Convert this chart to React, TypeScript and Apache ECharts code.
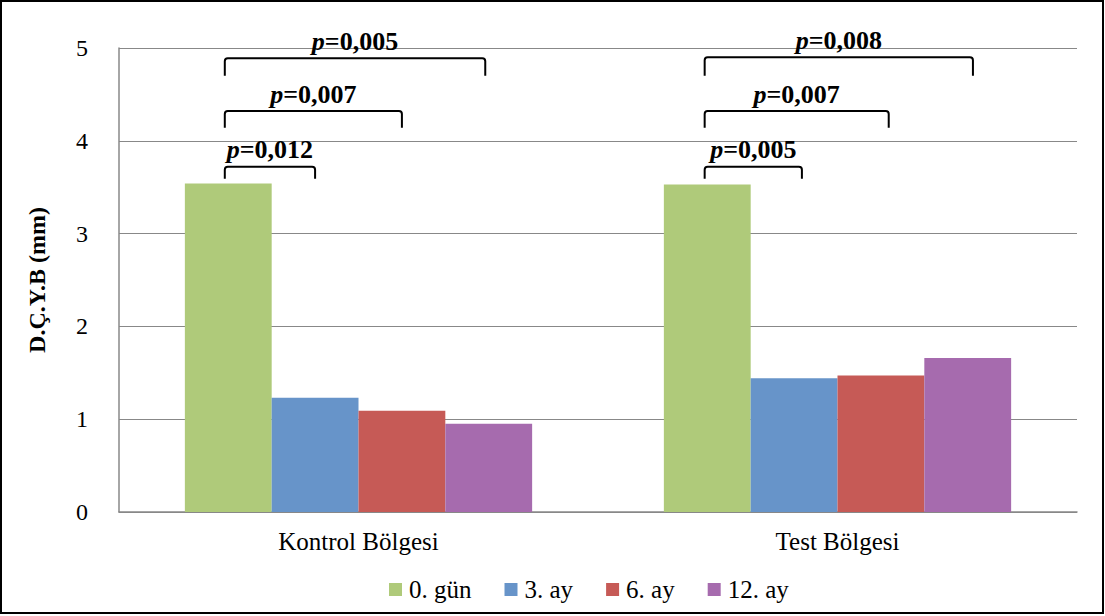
import React, { useEffect, useRef } from "react";
import * as echarts from "echarts";

const categories = ["Kontrol Bölgesi", "Test Bölgesi"];
const seriesNames = ["0. gün", "3. ay", "6. ay", "12. ay"];
const seriesColors = ["#AFCA7A", "#6794C9", "#C65A56", "#A66BAE"];
const gun0 = [3.54, 3.53];
const ay3 = [1.23, 1.44];
const ay6 = [1.09, 1.47];
const ay12 = [0.95, 1.66];
const yTicks = [0, 1, 2, 3, 4, 5];

// brackets: [categoryIndex, fromSlot, toSlot, topValue, endValue, label]
const brackets: [number, number, number, number, number, string][] = [
  [0, 0.46, 1.5, 3.72, 3.59, "0,012"],
  [0, 0.46, 2.5, 4.32, 4.14, "0,007"],
  [0, 0.46, 3.46, 4.89, 4.7, "0,005"],
  [1, 0.47, 1.59, 3.72, 3.59, "0,005"],
  [1, 0.47, 2.59, 4.32, 4.14, "0,007"],
  [1, 0.47, 3.56, 4.9, 4.7, "0,008"],
];

const FONT = "Liberation Serif";
const GAP = 0.275;

export default function App() {
  const ref = useRef<HTMLDivElement>(null);
  useEffect(() => {
    if (!ref.current) return;
    const chart = echarts.init(ref.current, null, { renderer: "svg" });
    const values = [gun0, ay3, ay6, ay12];
    const bars = values.map((d, i) => ({
      name: seriesNames[i],
      type: "bar",
      data: d,
      barGap: "0%",
      barCategoryGap: GAP * 100 + "%",
      itemStyle: { color: seriesColors[i] },
    }));
    chart.setOption({
      animation: false,
      backgroundColor: "#fff",
      textStyle: { fontFamily: FONT },
      grid: { left: 119, right: 28, top: 48, bottom: 104 },
      legend: {
        data: seriesNames,
        top: 572,
        left: 384,
        icon: "rect",
        itemWidth: 13,
        itemHeight: 13,
        itemGap: 33,
        textStyle: { fontFamily: FONT, fontSize: 25, color: "#000", padding: [0, 0, 0, 2] },
      },
      xAxis: {
        type: "category",
        data: categories,
        axisLine: { lineStyle: { color: "#888", width: 1.5 } },
        axisTick: { show: false },
        axisLabel: { fontFamily: FONT, fontSize: 25, color: "#000", margin: 17 },
      },
      yAxis: {
        type: "value",
        min: 0,
        max: 5,
        interval: 1,
        name: "D.Ç.Y.B (mm)",
        nameLocation: "middle",
        nameGap: 70,
        nameTextStyle: { fontFamily: FONT, fontSize: 24, fontWeight: "bold", color: "#000" },
        axisLine: { show: true, lineStyle: { color: "#888", width: 1.5 } },
        axisTick: { show: false },
        axisLabel: {
          fontFamily: FONT,
          fontSize: 24,
          color: "#000",
          margin: 31,
          formatter: (v: number) => (yTicks.includes(v) ? String(v) : ""),
        },
        splitLine: { lineStyle: { color: "#888", width: 1 } },
      },
      series: [
        ...bars,
        {
          type: "custom",
          name: "brackets",
          silent: true,
          z: 10,
          data: brackets.map((b) => b),
          renderItem: (params: any, api: any) => {
            const b = brackets[params.dataIndex];
            const catW = api.size([1, 0])[0];
            const bw = (catW * (1 - GAP)) / 4;
            const center = api.coord([b[0], 0])[0];
            const start = center - 2 * bw;
            const x1 = start + b[1] * bw;
            const x2 = start + b[2] * bw;
            const yt = api.coord([b[0], b[3]])[1];
            const yb = api.coord([b[0], b[4]])[1];
            const r = 3;
            const d = `M${x1} ${yb} L${x1} ${yt + r} Q${x1} ${yt} ${x1 + r} ${yt} L${x2 - r} ${yt} Q${x2} ${yt} ${x2} ${yt + r} L${x2} ${yb}`;
            return {
              type: "group",
              children: [
                {
                  type: "path",
                  shape: { pathData: d },
                  style: { fill: "none", stroke: "#000", lineWidth: 2 },
                },
                {
                  type: "text",
                  x: (x1 + x2) / 2,
                  y: yt - 4,
                  style: {
                    text: "{i|p}{b|=" + b[5] + "}",
                    align: "center",
                    verticalAlign: "bottom",
                    fontFamily: FONT,
                    rich: {
                      i: { fontFamily: FONT, fontSize: 26, fontWeight: "bold", fontStyle: "italic", fill: "#000" },
                      b: { fontFamily: FONT, fontSize: 26, fontWeight: "bold", fill: "#000" },
                    },
                  },
                },
              ],
            };
          },
        },
      ],
      graphic: [
        {
          type: "rect",
          shape: { x: 1, y: 1, width: 1102, height: 612 },
          style: { fill: "none", stroke: "#000", lineWidth: 2 },
          silent: true,
        },
      ],
    });
    return () => chart.dispose();
  }, []);
  return (
    <div
      ref={ref}
      style={{ position: "fixed", left: 0, top: 0, width: 1105, height: 616 }}
    />
  );
}
